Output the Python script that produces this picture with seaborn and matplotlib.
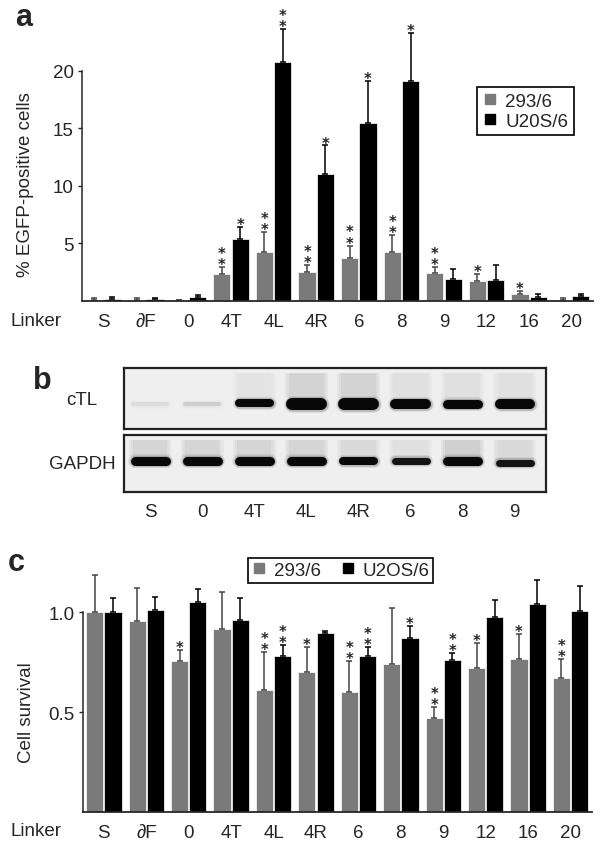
import pandas as pd
import seaborn as sns
import matplotlib.pyplot as plt
from matplotlib.lines import Line2D

# dados do painel a (% de celulas EGFP positivas)
linkers = ['S', '∂F', '0', '4T', '4L', '4R', '6', '8', '9', '12', '16', '20']
egfp_293 = [0.05, 0.1, 0.05, 2.3, 4.2, 2.5, 3.7, 4.2, 2.4, 1.75, 0.6, 0.02]
egfp_293_topo = [0.25, 0.2, 0.1, 2.9, 5.95, 3.1, 4.8, 5.75, 2.9, 2.3, 0.82, 0.2]
egfp_u2os = [0.12, 0.15, 0.28, 5.35, 20.8, 11.0, 15.45, 19.1, 1.85, 1.8, 0.3, 0.38]
egfp_u2os_topo = [0.3, 0.2, 0.5, 6.4, 23.6, 13.5, 19.1, 23.3, 2.8, 3.1, 0.58, 0.6]
estrelas_a_293 = [0, 0, 0, 2, 2, 2, 2, 2, 2, 1, 1, 0]
estrelas_a_u2os = [0, 0, 0, 1, 2, 1, 1, 1, 0, 0, 0, 0]

# dados do painel c (sobrevivencia)
surv_293 = [1.0, 0.955, 0.758, 0.917, 0.613, 0.70, 0.60, 0.742, 0.47, 0.72, 0.767, 0.673]
surv_293_topo = [1.187, 1.12, 0.813, 1.10, 0.80, 0.825, 0.758, 1.023, 0.525, 0.847, 0.892, 0.767]
surv_u2os = [1.0, 1.013, 1.052, 0.962, 0.78, 0.895, 0.782, 0.87, 0.763, 0.977, 1.043, 1.008]
surv_u2os_topo = [1.072, 1.078, 1.117, 1.07, 0.838, 0.905, 0.825, 0.933, 0.797, 1.063, 1.16, 1.13]
estrelas_c_293 = [0, 0, 1, 0, 2, 1, 2, 0, 2, 1, 1, 2]
estrelas_c_u2os = [0, 0, 0, 0, 2, 0, 2, 1, 2, 0, 0, 0]

# dados do gel (painel b)
gel_lanes = ['S', '0', '4T', '4L', '4R', '6', '8', '9']
ctl_intensidade = [0.14, 0.2, 1, 1, 1, 1, 1, 1]
ctl_espessura = [4, 4, 8, 12, 12, 10, 9, 10]
ctl_posicao = [36, 36, 35, 36, 36, 36, 36, 36]
ctl_borrao = [0, 0, 0.05, 0.12, 0.12, 0.06, 0.06, 0.06]
gapdh_intensidade = [1, 1, 1, 1, 1, 0.95, 1, 0.95]
gapdh_espessura = [9, 9, 9, 9, 8, 7, 9, 7]
gapdh_posicao = [26, 26, 26, 26, 26, 26, 26, 28]
gapdh_borrao = [0.1, 0.1, 0.1, 0.1, 0.08, 0.06, 0.13, 0.08]

sns.set_style('ticks')
plt.rcParams['font.family'] = ['Liberation Sans', 'DejaVu Sans']
plt.rcParams['font.size'] = 13

cor_cinza = '#7a7a7a'
cores = {'293/6': cor_cinza, 'U2OS/6': 'black'}

fig = plt.figure(figsize=(6, 8.45), dpi=100)
W, H = 600, 845


def eixo(x0, y0, x1, y1):
    return fig.add_axes([x0 / W, 1 - y1 / H, (x1 - x0) / W, (y1 - y0) / H])


def painel_barras(ax, v293, t293, vu2, tu2, e293, eu2, ytop, ymax_spine, yticks, ylabels):
    df = pd.DataFrame({
        'linker': linkers * 2,
        'linha': ['293/6'] * 12 + ['U2OS/6'] * 12,
        'valor': v293 + vu2,
    })
    sns.barplot(data=df, x='linker', y='valor', hue='linha', order=linkers,
                palette=cores, width=0.86, gap=0.06, errorbar=None,
                edgecolor='white', linewidth=0.5, legend=False, ax=ax)
    for cont, vals, topos, est, cor in [(ax.containers[0], v293, t293, e293, '#444444'),
                                        (ax.containers[1], vu2, tu2, eu2, 'black')]:
        xs = [b.get_x() + b.get_width() / 2 for b in cont]
        erro = [t - v for t, v in zip(topos, vals)]
        ax.errorbar(xs, vals, yerr=[[0] * 12, erro], fmt='none', ecolor=cor,
                    elinewidth=1.1, capsize=2.5, capthick=1.1)
        for x, t, n in zip(xs, topos, est):
            if n > 0:
                ax.annotate('\n'.join(['*'] * n), (x, t), xytext=(0, -1.5), textcoords='offset points',
                            ha='center', va='baseline', fontsize=10.5, linespacing=0.68,
                            family='DejaVu Sans', weight='bold')
    ax.set_xlim(-0.5, 11.5)
    ax.set_ylim(0, ytop)
    sns.despine(ax=ax)
    ax.spines['left'].set_bounds(0, ymax_spine)
    ax.spines['left'].set_linewidth(1.1)
    ax.spines['bottom'].set_linewidth(1.3)
    ax.set_yticks(yticks, ylabels)
    ax.tick_params(axis='y', length=3, width=1, pad=3, labelsize=13.5)
    ax.tick_params(axis='x', length=0, pad=8.5, labelsize=13.5)
    ax.set_xlabel('')
    ax.set_ylabel('')


def quadrado(cor):
    return Line2D([], [], marker='s', ls='none', color=cor, markersize=7)


# painel a
ax_a = eixo(82, 10, 593, 301.7)
painel_barras(ax_a, egfp_293, egfp_293_topo, egfp_u2os, egfp_u2os_topo,
              estrelas_a_293, estrelas_a_u2os, 25.37, 20, [5, 10, 15, 20], ['5', '10', '15', '20'])
leg = ax_a.legend([quadrado(cor_cinza), quadrado('black')], ['293/6', 'U20S/6'],
                  loc='upper left', bbox_to_anchor=(477 / W, 1 - 88 / H), bbox_transform=fig.transFigure,
                  borderaxespad=0, fancybox=False, edgecolor='black', framealpha=1,
                  handlelength=0.8, handletextpad=0.4, labelspacing=0.15, borderpad=0.3, fontsize=13.5)
leg.get_frame().set_linewidth(1.2)
fig.text(26 / W, 1 - 185 / H, '% EGFP-positive cells', rotation=90, ha='center', va='center', fontsize=13.5)
fig.text(10 / W, 1 - 322 / H, 'Linker', ha='left', va='center', fontsize=13.5)
fig.text(15 / W, 1 - 18 / H, 'a', ha='left', va='center', fontsize=22, weight='bold')

# painel b (gel)
ax_ctl = eixo(124, 369, 546, 430)
ax_gap = eixo(124, 436, 546, 493)
for ax, intens, esp, pos, borr, alt in [
        (ax_ctl, ctl_intensidade, ctl_espessura, ctl_posicao, ctl_borrao, 61),
        (ax_gap, gapdh_intensidade, gapdh_espessura, gapdh_posicao, gapdh_borrao, 57)]:
    ax.set_facecolor('#efefef')
    ax.set_xlim(-0.5, 7.6)
    ax.set_ylim(alt, 0)
    for i in range(len(gel_lanes)):
        topo_b = pos[i] - esp[i] / 2
        # borrao acima da banda
        if borr[i] > 0:
            for larg in [0.82, 0.74, 0.66]:
                ax.bar(i, topo_b - 5, bottom=5, width=larg, color='black',
                       alpha=borr[i] / 3, linewidth=0)
        cinza = 1 - 0.97 * intens[i]
        c = (cinza, cinza, cinza)
        meia = 0.34 - esp[i] / 2 / 52 * 0.5
        # halo e nucleo da banda (linha com pontas redondas)
        for extra, alfa in [(5, 0.07), (2.5, 0.18), (0, 1)]:
            ax.plot([i - meia, i + meia], [pos[i], pos[i]], color=c, alpha=alfa,
                    lw=(esp[i] + extra) * 0.72, solid_capstyle='round')
    for s in ax.spines.values():
        s.set_visible(True)
        s.set_linewidth(1.6)
        s.set_color('#222222')
    ax.set_yticks([])
    ax.set_xticks([])
ax_gap.set_xticks(range(len(gel_lanes)), gel_lanes)
ax_gap.tick_params(axis='x', length=0, pad=8, labelsize=13.5)
fig.text(82 / W, 1 - 401 / H, 'cTL', ha='center', va='center', fontsize=13.5)
fig.text(82 / W, 1 - 465 / H, 'GAPDH', ha='center', va='center', fontsize=13.5)
fig.text(33 / W, 1 - 381 / H, 'b', ha='left', va='center', fontsize=22, weight='bold')

# painel c
ax_c = eixo(82.7, 540, 591.7, 813.3)
painel_barras(ax_c, surv_293, surv_293_topo, surv_u2os, surv_u2os_topo,
              estrelas_c_293, estrelas_c_u2os, 1.3665, 1.0, [0.5, 1.0], ['0.5', '1.0'])
leg = ax_c.legend([quadrado(cor_cinza), quadrado('black')], ['293/6', 'U2OS/6'], ncol=2,
                  loc='upper left', bbox_to_anchor=(248 / W, 1 - 559 / H), bbox_transform=fig.transFigure,
                  borderaxespad=0, fancybox=False, edgecolor='black', framealpha=1,
                  handlelength=0.8, handletextpad=0.4, columnspacing=1.0, borderpad=0.2, fontsize=13.5)
leg.get_frame().set_linewidth(1.2)
fig.text(27 / W, 1 - 713 / H, 'Cell survival', rotation=90, ha='center', va='center', fontsize=13.5)
fig.text(10 / W, 1 - 832 / H, 'Linker', ha='left', va='center', fontsize=13.5)
fig.text(8 / W, 1 - 563 / H, 'c', ha='left', va='center', fontsize=22, weight='bold')

fig.savefig('out.png', dpi=100)
